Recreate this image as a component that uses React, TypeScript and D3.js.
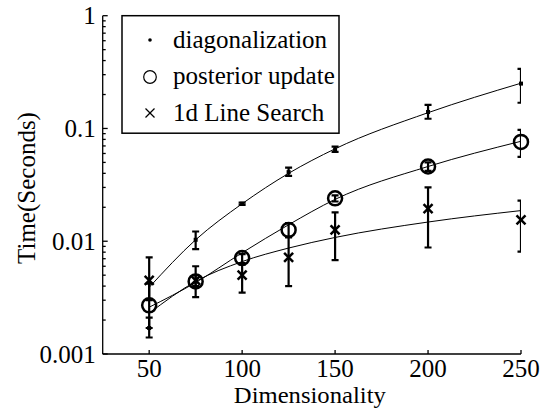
import React from "react";
import * as d3 from "d3";

// dimensionality values
const dims = [50, 75, 100, 125, 150, 200, 250];

// measured times (seconds) with error bar bounds
const diagMean = [0.0017, 0.0103, 0.0215, 0.041, 0.065, 0.14, 0.25];
const diagLow = [0.0014, 0.0085, 0.021, 0.038, 0.062, 0.122, 0.169];
const diagHigh = [0.0021, 0.0122, 0.022, 0.045, 0.069, 0.162, 0.337];

const postMean = [0.0027, 0.0044, 0.0071, 0.0126, 0.024, 0.046, 0.076];
const postLow = [0.0017, 0.0032, 0.0064, 0.0108, 0.0225, 0.042, 0.056];
const postHigh = [0.0042, 0.006, 0.0077, 0.0145, 0.0255, 0.05, 0.097];

const lsMean = [0.0045, 0.0045, 0.005, 0.0072, 0.0126, 0.0195, 0.0155];
const lsLow = [0.003, 0.004, 0.0035, 0.004, 0.0068, 0.0088, 0.0081];
const lsHigh = [0.0072, 0.005, 0.0062, 0.011, 0.018, 0.03, 0.0229];

// fitted curves read at the same dimensionalities
const diagFit = [0.0039, 0.0103, 0.0215, 0.04, 0.066, 0.138, 0.252];
const postFit = [0.0026, 0.0043, 0.0079, 0.014, 0.0235, 0.046, 0.077];
const lsFit = [0.0023, 0.0044, 0.0066, 0.0087, 0.0108, 0.0148, 0.0187];

const xTicks = [50, 100, 150, 200, 250];
const yTicks = [1, 0.1, 0.01, 0.001];
const yTickLabels = ["1", "0.1", "0.01", "0.001"];
const legendLabels = ["diagonalization", "posterior update", "1d Line Search"];

const W = 544;
const H = 408;
const left = 102.7;
const right = 521;
const top = 15.7;
const bottom = 354;
const FONT = '"Liberation Serif", "Times New Roman", Times, "DejaVu Serif", serif';

export default function App() {
  const x = d3.scaleLinear().domain([25, 250]).range([left, right]);
  const y = d3.scaleLog().domain([0.001, 1]).range([bottom, top]);

  const line = d3
    .line<number>()
    .x((_, i) => x(dims[i]))
    .y((d) => y(d))
    .curve(d3.curveMonotoneX);

  const minor: number[] = [];
  [0.001, 0.01, 0.1].forEach((b) => {
    for (let k = 2; k <= 9; k++) minor.push(b * k);
  });

  const errorBars = (low: number[], high: number[], key: string) =>
    dims.map((d, i) => {
      const cx = x(d);
      const y1 = y(low[i]);
      const y2 = y(high[i]);
      return (
        <g key={key + i} stroke="#000" strokeWidth={2.2}>
          <line x1={cx} x2={cx} y1={y1} y2={y2} />
          <line x1={cx - 3.5} x2={cx + 3.5} y1={y1} y2={y1} />
          <line x1={cx - 3.5} x2={cx + 3.5} y1={y2} y2={y2} />
        </g>
      );
    });

  const cross = (cx: number, cy: number, s: number, sw: number, key: string) => (
    <g key={key} stroke="#000" strokeWidth={sw}>
      <line x1={cx - s} x2={cx + s} y1={cy - s} y2={cy + s} />
      <line x1={cx - s} x2={cx + s} y1={cy + s} y2={cy - s} />
    </g>
  );

  const textStyle: React.CSSProperties = { fontFamily: FONT, fontSize: 25 };

  return (
    <div style={{ position: "fixed", left: 0, top: 0 }}>
      <svg width={W} height={H} style={{ display: "block", background: "#fff" }}>
        <defs>
          <clipPath id="plot">
            <rect x={left} y={top} width={right - left} height={bottom - top} />
          </clipPath>
        </defs>

        {/* fitted curves */}
        <g fill="none" stroke="#000" strokeWidth={1}>
          <path d={line(diagFit) || ""} />
          <path d={line(postFit) || ""} />
          <path d={line(lsFit) || ""} />
        </g>

        {/* error bars */}
        <g clipPath="url(#plot)">
          {errorBars(diagLow, diagHigh, "d")}
          {errorBars(postLow, postHigh, "p")}
          {errorBars(lsLow, lsHigh, "l")}
        </g>

        {/* markers */}
        {dims.map((d, i) => (
          <rect key={"dm" + i} x={x(d) - 2} y={y(diagMean[i]) - 2} width={4} height={4} fill="#000" />
        ))}
        {dims.map((d, i) => (
          <circle key={"pm" + i} cx={x(d)} cy={y(postMean[i])} r={7} fill="none" stroke="#000" strokeWidth={2.5} />
        ))}
        {dims.map((d, i) => cross(x(d), y(lsMean[i]), 4.5, 2.5, "lm" + i))}

        {/* axes */}
        <g stroke="#000" strokeWidth={1.3}>
          <line x1={left} x2={left} y1={top} y2={bottom} />
          <line x1={left} x2={right} y1={bottom} y2={bottom} />
          {yTicks.map((t) => (
            <line key={"yt" + t} x1={left} x2={left + 5} y1={y(t)} y2={y(t)} />
          ))}
          {minor.map((t, i) => (
            <line key={"ym" + i} x1={left} x2={left + 3} y1={y(t)} y2={y(t)} />
          ))}
          {xTicks.map((t) => (
            <line key={"xt" + t} x1={x(t)} x2={x(t)} y1={bottom} y2={bottom - 4} />
          ))}
        </g>

        <g style={textStyle} fill="#000">
          {yTicks.map((t, i) => (
            <text key={"yl" + t} x={left - 7} y={y(t) + 8.5} textAnchor="end">
              {yTickLabels[i]}
            </text>
          ))}
          {xTicks.map((t) => (
            <text key={"xl" + t} x={x(t)} y={377} textAnchor="middle">
              {t}
            </text>
          ))}
          <text
            x={(left + right) / 2 - 2}
            y={402.5}
            textAnchor="middle"
            style={{ fontSize: 22.5 }}
            textLength={152}
            lengthAdjust="spacingAndGlyphs"
          >
            Dimensionality
          </text>
          <text transform={`translate(35,188) rotate(-90)`} textAnchor="middle">
            Time(Seconds)
          </text>
        </g>

        {/* legend */}
        <g>
          <rect x={122} y={top} width={217} height={117.5} fill="#fff" stroke="#000" strokeWidth={1.5} />
          <circle cx={150} cy={40} r={1.8} fill="#000" />
          <circle cx={150} cy={77} r={6.3} fill="none" stroke="#000" strokeWidth={1.2} />
          {cross(150, 113, 4.5, 1.2, "legx")}
          <g style={textStyle} fill="#000">
            {legendLabels.map((l, i) => (
              <text key={l} x={173} y={40 + i * 36.5 + 7.5}>
                {l}
              </text>
            ))}
          </g>
        </g>
      </svg>
    </div>
  );
}
